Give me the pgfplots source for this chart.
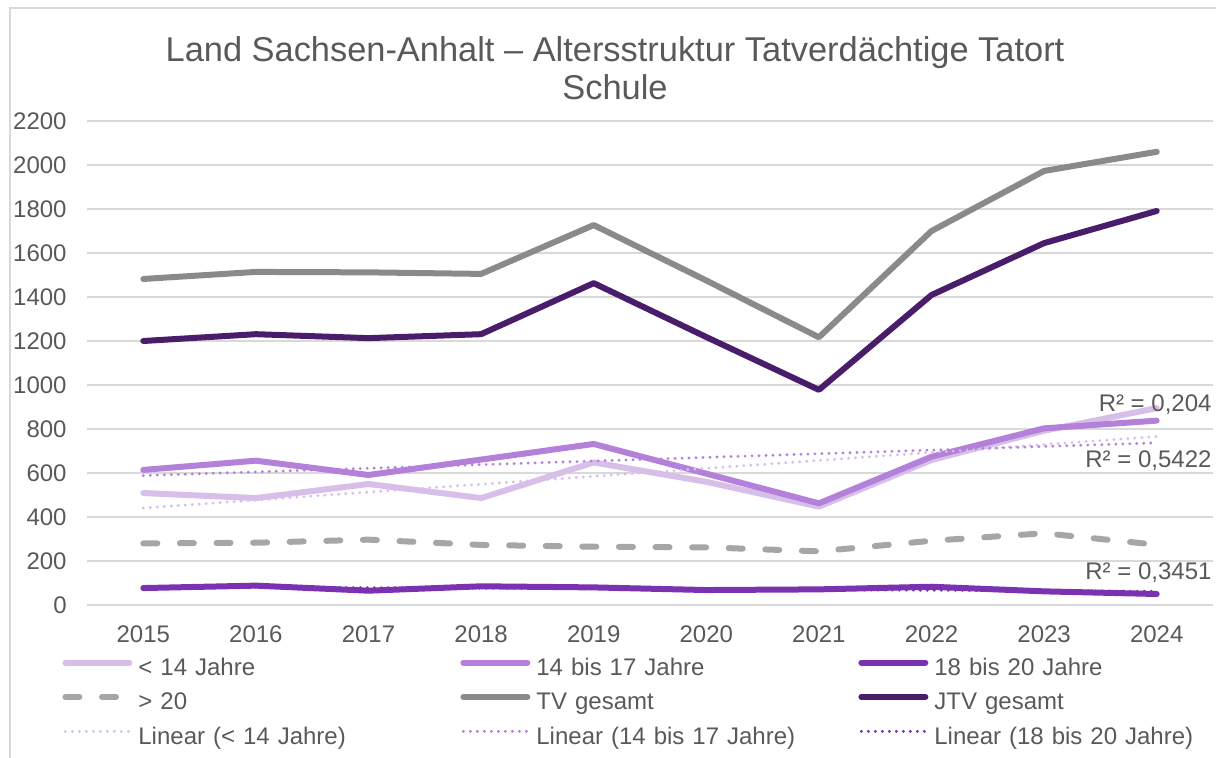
\documentclass[border=0pt]{standalone}
\usepackage{pgfplots}
\pgfplotsset{compat=1.18}
\usepackage{fontspec}
\setmainfont{Liberation Sans}
\definecolor{cA}{HTML}{D8BFEA}
\definecolor{cB}{HTML}{B381D9}
\definecolor{cC}{HTML}{7B32B0}
\definecolor{cD}{HTML}{A6A6A6}
\definecolor{cE}{HTML}{8A8A8A}
\definecolor{cF}{HTML}{4A1D6A}
\definecolor{txt}{HTML}{595959}
\definecolor{gridc}{HTML}{D9D9D9}
\begin{document}
\begin{tikzpicture}
\useasboundingbox (0,0) rectangle (608bp,379bp);
\draw[color=gridc, line width=0.75bp] (5bp,-1bp) -- (5bp,375bp) -- (609bp,375bp);
\node[anchor=base, font=\fontsize{17.2bp}{20bp}\selectfont, text=txt, inner sep=0pt] at (307.5bp,348bp) {Land Sachsen-Anhalt – Altersstruktur Tatverdächtige Tatort};
\node[anchor=base, font=\fontsize{17.2bp}{20bp}\selectfont, text=txt, inner sep=0pt] at (307.5bp,329bp) {Schule};
\begin{axis}[
  at={(43.5bp,76.5bp)}, anchor=south west,
  width=563bp, height=242bp, scale only axis,
  xmin=-0.5, xmax=9.5, ymin=0, ymax=2200,
  axis line style={draw=none},
  tick style={draw=none}, major tick length=0pt,
  ytick={0,200,...,2200},
  xtick={0,1,2,3,4,5,6,7,8,9},
  xticklabels={2015,2016,2017,2018,2019,2020,2021,2022,2023,2024},
  ymajorgrids, grid style={color=gridc, line width=0.8bp},
  /pgf/number format/assume math mode=true,
  /pgf/number format/1000 sep={},
  tick label style={font=\fontsize{12bp}{14bp}\selectfont, text=txt},
  yticklabel style={anchor=east, inner sep=0pt, xshift=-10bp},
  xticklabel style={anchor=base, inner sep=0pt, yshift=-18.5bp},
  legend columns=3,
  legend cell align=left,
  legend style={at={(-0.0222,-0.097)}, anchor=north west, draw=none, fill=none,
    inner sep=0pt, column sep=0pt, row sep=0pt,
    font=\fontsize{12bp}{14bp}\selectfont, text=txt,
    nodes={text width=158bp, inner xsep=3bp, inner ysep=2.6bp, text height=9bp, text depth=3bp, align=left}},
  legend image code/.code={\draw[#1] (1.5bp,0.35em) -- (33.5bp,0.35em);},
  every axis plot/.append style={line join=round, line cap=round},
]
\addplot[color=cA, line width=3bp] coordinates {(0,509) (1,486) (2,550) (3,486) (4,648) (5,560) (6,447) (7,659) (8,792) (9,895)};
\addlegendentry{< 14 Jahre}
\addplot[color=cB, line width=3bp] coordinates {(0,614) (1,656) (2,591) (3,661) (4,732) (5,597) (6,462) (7,674) (8,803) (9,838)};
\addlegendentry{14 bis 17 Jahre}
\addplot[color=cC, line width=3bp] coordinates {(0,77) (1,88) (2,65) (3,85) (4,80) (5,68) (6,71) (7,83) (8,62) (9,50)};
\addlegendentry{18 bis 20 Jahre}
\addplot[color=cD, line width=3bp, dash pattern=on 7bp off 11.3bp] coordinates {(0,280) (1,283) (2,297) (3,273) (4,265) (5,262) (6,244) (7,292) (8,326) (9,274)};
\addlegendentry{> 20}
\addplot[color=cE, line width=3bp] coordinates {(0,1482) (1,1514) (2,1512) (3,1505) (4,1727) (5,1475) (6,1217) (7,1700) (8,1973) (9,2060)};
\addlegendentry{TV gesamt}
\addplot[color=cF, line width=3bp] coordinates {(0,1200) (1,1231) (2,1213) (3,1231) (4,1463) (5,1218) (6,978) (7,1409) (8,1645) (9,1791)};
\addlegendentry{JTV gesamt}
\addplot[color=cA, line width=1.6bp, dash pattern=on 0bp off 3.5bp] coordinates {(0,440.8) (9,765.6)};
\addlegendentry{Linear (< 14 Jahre)}
\addplot[color=cB, line width=1.6bp, dash pattern=on 0bp off 3.5bp] coordinates {(0,588.4) (9,737.2)};
\addlegendentry{Linear (14 bis 17 Jahre)}
\addplot[color=cC, line width=1.6bp, dash pattern=on 0bp off 3.5bp] coordinates {(0,83.5) (9,62.3)};
\addlegendentry{Linear (18 bis 20 Jahre)}
\node[anchor=east, inner sep=0pt, font=\fontsize{12bp}{14bp}\selectfont, text=txt] at (axis cs:9.49,912) {R² = 0,204};
\node[anchor=east, inner sep=0pt, font=\fontsize{12bp}{14bp}\selectfont, text=txt] at (axis cs:9.49,657) {R² = 0,5422};
\node[anchor=east, inner sep=0pt, font=\fontsize{12bp}{14bp}\selectfont, text=txt] at (axis cs:9.49,148) {R² = 0,3451};
\end{axis}
\end{tikzpicture}
\end{document}
